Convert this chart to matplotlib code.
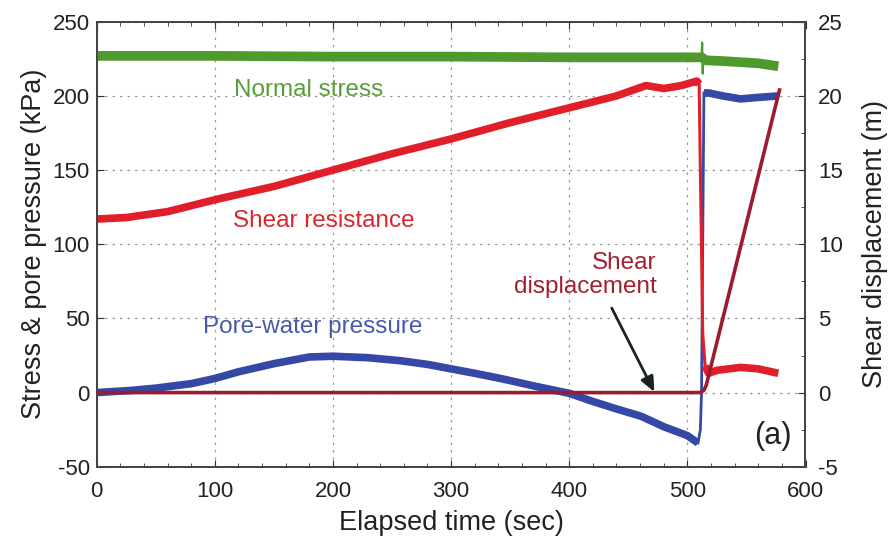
import matplotlib
matplotlib.use("Agg")
import matplotlib.pyplot as plt
from matplotlib.ticker import MultipleLocator

plt.rcParams['font.family'] = ['Liberation Sans', 'DejaVu Sans']
plt.rcParams['axes.unicode_minus'] = False

# ---- data ----
# normal stress (kPa)
t_normal = [0, 100, 200, 300, 400, 480, 512, 516, 530, 560, 577]
normal_stress = [227, 227, 226.5, 226.5, 226, 226, 226, 224, 223.5, 222, 220]
# short spike in normal stress at failure
t_normal_spike = [512, 512.5, 513, 513.5]
normal_spike = [226, 236, 215, 224]

# shear resistance (kPa): before failure, drop, after failure
t_shear_pre = [0, 25, 60, 100, 150, 200, 250, 300, 350, 400, 440, 465, 480, 495, 508, 510]
shear_pre = [117, 118, 122, 130, 139, 150, 161, 171, 182, 192, 200, 207, 205, 207, 210, 208]
t_shear_drop = [510, 511, 513, 515]
shear_drop = [208, 150, 40, 18]
t_shear_post = [515, 518, 525, 545, 560, 577]
shear_post = [18, 13, 15, 17, 16, 13]

# pore-water pressure (kPa)
t_pore_pre = [0, 30, 50, 80, 100, 120, 150, 180, 200, 230, 257, 280, 300, 320, 342, 370, 400,
              420, 440, 461, 480, 490, 500, 509]
pore_pre = [0, 1.5, 3, 6, 9.5, 14, 19.5, 24, 24.5, 23.5, 21.5, 19, 16, 13, 9.5, 4.5, -0.5,
            -6, -11, -16, -23, -26, -29, -34]
t_pore_jump = [509, 511, 512, 513, 514]
pore_jump = [-34, -25, 0, 100, 202]
t_pore_post = [514, 518, 530, 545, 560, 577]
pore_post = [202, 202, 200, 198, 199, 200]

# shear displacement (m, right axis)
t_disp = [0, 511, 514, 516, 578]
shear_displacement = [0, 0, 0.15, 0.5, 20.4]

x_ticks = [0, 100, 200, 300, 400, 500, 600]
y_left_ticks = [-50, 0, 50, 100, 150, 200, 250]
y_right_ticks = [-5, 0, 5, 10, 15, 20, 25]

GREEN = '#4e9a2c'
RED = '#e11f2b'
BLUE = '#3548a6'
DARKRED = '#9c1c2e'

fig = plt.figure(figsize=(8.95, 5.44), dpi=100)
ax = fig.add_axes([0.108, 0.142, 0.792, 0.818])
ax2 = ax.twinx()

ax.plot(t_normal, normal_stress, color=GREEN, lw=7, solid_capstyle='butt', zorder=3)
ax.plot(t_normal_spike, normal_spike, color=GREEN, lw=1.6, zorder=3)
ax.plot(t_shear_pre, shear_pre, color=RED, lw=5.5, solid_capstyle='butt', zorder=3)
ax.plot(t_shear_drop, shear_drop, color=RED, lw=2.2, zorder=3)
ax.plot(t_shear_post, shear_post, color=RED, lw=5.5, solid_capstyle='butt', zorder=3)
ax.plot(t_pore_pre, pore_pre, color=BLUE, lw=5.5, solid_capstyle='butt', zorder=2)
ax.plot(t_pore_jump, pore_jump, color=BLUE, lw=2.0, zorder=2)
ax.plot(t_pore_post, pore_post, color=BLUE, lw=5.5, solid_capstyle='butt', zorder=2)
ax2.plot(t_disp, shear_displacement, color=DARKRED, lw=2.6, zorder=4)

ax.set_xlim(0, 600)
ax.set_ylim(-50, 250)
ax2.set_ylim(-5, 25)
ax.set_xticks(x_ticks)
ax.set_yticks(y_left_ticks)
ax2.set_yticks(y_right_ticks)
ax.xaxis.set_minor_locator(MultipleLocator(20))
ax2.yaxis.set_minor_locator(MultipleLocator(2.5))

ax.grid(True, which='major', linestyle=(0, (2, 4)), color='#9a9a9a', lw=0.9)
ax.tick_params(axis='both', which='both', direction='in', top=True, labelsize=16,
               colors='#333333', labelcolor='#222222')
ax.tick_params(which='major', length=5)
ax.tick_params(which='minor', length=3)
ax.tick_params(axis='x', pad=10)
ax.tick_params(axis='y', pad=5)
ax2.tick_params(axis='y', which='both', direction='in', labelsize=16,
                colors='#333333', labelcolor='#222222', pad=9)
ax2.tick_params(which='major', length=5)
ax2.tick_params(which='minor', length=3)

for a in (ax, ax2):
    for s in a.spines.values():
        s.set_color('#444444')
        s.set_linewidth(1.3)

ax.set_xlabel('Elapsed time (sec)', fontsize=19.5, color='#222222', labelpad=6)
ax.set_ylabel('Stress & pore pressure (kPa)', fontsize=19.5, color='#222222', labelpad=4)
ax2.set_ylabel('Shear displacement (m)', fontsize=19.5, color='#222222', labelpad=14)

ax.text(179, 204, 'Normal stress', color='#5a9e3a', fontsize=17.5, ha='center', va='center')
ax.text(192, 115.5, 'Shear resistance', color='#d8262e', fontsize=17.5, ha='center', va='center')
ax.text(183, 44, 'Pore-water pressure', color='#4a5aa8', fontsize=17.5, ha='center', va='center')
ax.text(474, 79.5, 'Shear\ndisplacement', color='#a02030', fontsize=17.5, ha='right',
        va='center', linespacing=1.1, multialignment='right')
ax.text(572, -29, '(a)', color='#222222', fontsize=22, ha='center', va='center')

ax.annotate('', xy=(472, 0.5), xytext=(436, 57),
            arrowprops=dict(arrowstyle='-|>,head_length=0.9,head_width=0.4',
                            color='#1a2222', lw=2, shrinkA=0, shrinkB=0), zorder=6)

fig.savefig('out.png', dpi=100)
